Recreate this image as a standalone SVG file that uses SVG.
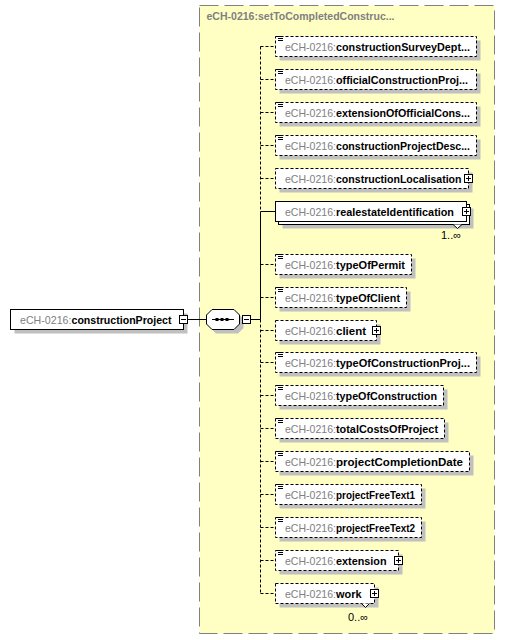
<svg xmlns="http://www.w3.org/2000/svg" xmlns:xlink="http://www.w3.org/1999/xlink" width="505" height="640" viewBox="0 0 505 640">
<style>
text{font-family:"Liberation Sans",Arial,sans-serif;font-size:11px}
.ns{fill:#808080}
.nm{font-weight:bold;fill:#000}
.box{fill:#fff;stroke:#000;stroke-width:1}
.opt{stroke-dasharray:3,2}
.sh{fill:#c0c0c0}
.ln{stroke:#000;stroke-width:1;fill:none}
.dl{stroke:#000;stroke-width:1;fill:none;stroke-dasharray:3,2}
.card{fill:#000;font-size:11px}
</style>
<defs>
<g id="doc"><rect x="0" y="0" width="7" height="6" fill="#fff"/><path d="M0,0.5H7M2,2.5H7M2,4.5H7" stroke="#000" stroke-width="1"/></g>
<g id="plus"><rect x="0.5" y="0.5" width="8" height="8" fill="#fff" stroke="#000"/><path d="M2,4.5H7M4.5,2V7" stroke="#000"/></g>
<g id="minus"><rect x="0.5" y="0.5" width="8" height="8" fill="#fff" stroke="#000"/><path d="M2,4.5H7" stroke="#000"/></g>
</defs>

<g id="complexType">
<rect x="199.5" y="5.5" width="295" height="628" fill="#ffffc4" stroke="#808080" stroke-dasharray="19,6"/>
<text x="206.5" y="20" class="ns" style="font-weight:bold" textLength="188" lengthAdjust="spacingAndGlyphs">eCH-0216:setToCompletedConstruc...</text>
</g>

<g id="connectors">
<path class="ln" d="M187.5,319.5H206.5M250.5,319.5H260.5"/>
<path class="dl" d="M260.5,46.5V211.5"/>
<path class="ln" d="M260.5,211.5V319.5"/>
<path class="dl" d="M260.5,319.5V593.5"/>
<path class="dl" d="M260.5,46.5H275.5M260.5,79.5H275.5M260.5,112.5H275.5M260.5,145.5H275.5M260.5,178.5H275.5M260.5,264.5H275.5M260.5,297.5H275.5M260.5,330.5H275.5M260.5,362.5H275.5M260.5,395.5H275.5M260.5,428.5H275.5M260.5,461.5H275.5M260.5,494.5H275.5M260.5,527.5H275.5M260.5,560.5H275.5M260.5,593.5H275.5"/>
<path class="ln" d="M260.5,211.5H275.5"/>
</g>

<g id="constructionProject">
<rect class="sh" x="14.5" y="313.5" width="173" height="20"/>
<rect class="box" x="10.5" y="309.5" width="173" height="20"/>
<text x="20" y="323.5" class="ns" textLength="51.5" lengthAdjust="spacingAndGlyphs">eCH-0216:</text>
<text x="71.5" y="323.5" class="nm" textLength="100" lengthAdjust="spacingAndGlyphs">constructionProject</text>
<use xlink:href="#minus" x="179" y="315"/>
</g>

<g id="sequence">
<polygon class="sh" points="216,313.5 238,313.5 243.5,319 243.5,328 238,333.5 216,333.5 210.5,328 210.5,319"/>
<polygon class="box" points="212,309.5 234,309.5 239.5,315 239.5,324 234,329.5 212,329.5 206.5,324 206.5,315"/>
<path class="ln" d="M212,319.5H234"/>
<rect x="215.5" y="318" width="3" height="3" fill="#000"/>
<rect x="220.5" y="318" width="3" height="3" fill="#000"/>
<rect x="225.5" y="318" width="3" height="3" fill="#000"/>
<use xlink:href="#minus" x="242" y="315"/>
</g>

<g id="constructionSurveyDept">
<rect class="sh" x="279.5" y="40.5" width="201" height="20"/>
<rect class="box opt" x="275.5" y="36.5" width="201" height="20"/>
<use xlink:href="#doc" x="276" y="36"/>
<text x="285" y="50.5" class="ns" textLength="51" lengthAdjust="spacingAndGlyphs">eCH-0216:</text>
<text x="336" y="50.5" class="nm" textLength="134" lengthAdjust="spacingAndGlyphs">constructionSurveyDept...</text>
</g>

<g id="officialConstructionProj">
<rect class="sh" x="279.5" y="73.5" width="201" height="20"/>
<rect class="box opt" x="275.5" y="69.5" width="201" height="20"/>
<use xlink:href="#doc" x="276" y="69"/>
<text x="285" y="83.5" class="ns" textLength="51" lengthAdjust="spacingAndGlyphs">eCH-0216:</text>
<text x="336" y="83.5" class="nm" textLength="132" lengthAdjust="spacingAndGlyphs">officialConstructionProj...</text>
</g>

<g id="extensionOfOfficialCons">
<rect class="sh" x="279.5" y="106.5" width="201" height="20"/>
<rect class="box opt" x="275.5" y="102.5" width="201" height="20"/>
<use xlink:href="#doc" x="276" y="102"/>
<text x="285" y="116.5" class="ns" textLength="51" lengthAdjust="spacingAndGlyphs">eCH-0216:</text>
<text x="336" y="116.5" class="nm" textLength="134" lengthAdjust="spacingAndGlyphs">extensionOfOfficialCons...</text>
</g>

<g id="constructionProjectDesc">
<rect class="sh" x="279.5" y="139.5" width="201" height="20"/>
<rect class="box opt" x="275.5" y="135.5" width="201" height="20"/>
<use xlink:href="#doc" x="276" y="135"/>
<text x="285" y="149.5" class="ns" textLength="51" lengthAdjust="spacingAndGlyphs">eCH-0216:</text>
<text x="336" y="149.5" class="nm" textLength="134" lengthAdjust="spacingAndGlyphs">constructionProjectDesc...</text>
</g>

<g id="constructionLocalisation">
<rect class="sh" x="279.5" y="172.5" width="193" height="20"/>
<rect class="box opt" x="275.5" y="168.5" width="193" height="20"/>
<text x="285" y="182.5" class="ns" textLength="51" lengthAdjust="spacingAndGlyphs">eCH-0216:</text>
<text x="336" y="182.5" class="nm" textLength="125.5" lengthAdjust="spacingAndGlyphs">constructionLocalisation</text>
<use xlink:href="#plus" x="464" y="174"/>
</g>

<g id="realestateIdentification">
<rect class="sh" x="282.5" y="208.5" width="191" height="20"/>
<rect class="box" x="278.5" y="204.5" width="191" height="20"/>
<rect class="box" x="275.5" y="201.5" width="191" height="20"/>
<text x="285" y="215.5" class="ns" textLength="51" lengthAdjust="spacingAndGlyphs">eCH-0216:</text>
<text x="336" y="215.5" class="nm" textLength="118" lengthAdjust="spacingAndGlyphs">realestateIdentification</text>
<use xlink:href="#plus" x="462" y="207"/>
<polyline points="453,224.5 457.5,228.5 462,224.5" fill="#fff" stroke="#000"/>
<text x="441" y="239" class="card">1..∞</text>
</g>

<g id="typeOfPermit">
<rect class="sh" x="279.5" y="258.5" width="136" height="20"/>
<rect class="box opt" x="275.5" y="254.5" width="136" height="20"/>
<use xlink:href="#doc" x="276" y="254"/>
<text x="285" y="268.5" class="ns" textLength="51" lengthAdjust="spacingAndGlyphs">eCH-0216:</text>
<text x="336" y="268.5" class="nm" textLength="69" lengthAdjust="spacingAndGlyphs">typeOfPermit</text>
</g>

<g id="typeOfClient">
<rect class="sh" x="279.5" y="291.5" width="131" height="20"/>
<rect class="box opt" x="275.5" y="287.5" width="131" height="20"/>
<use xlink:href="#doc" x="276" y="287"/>
<text x="285" y="301.5" class="ns" textLength="51" lengthAdjust="spacingAndGlyphs">eCH-0216:</text>
<text x="336" y="301.5" class="nm" textLength="64" lengthAdjust="spacingAndGlyphs">typeOfClient</text>
</g>

<g id="client">
<rect class="sh" x="279.5" y="324.5" width="101" height="20"/>
<rect class="box opt" x="275.5" y="320.5" width="101" height="20"/>
<text x="285" y="334.5" class="ns" textLength="51" lengthAdjust="spacingAndGlyphs">eCH-0216:</text>
<text x="336" y="334.5" class="nm" textLength="30" lengthAdjust="spacingAndGlyphs">client</text>
<use xlink:href="#plus" x="372" y="326"/>
</g>

<g id="typeOfConstructionProj">
<rect class="sh" x="279.5" y="356.5" width="201" height="20"/>
<rect class="box opt" x="275.5" y="352.5" width="201" height="20"/>
<use xlink:href="#doc" x="276" y="352"/>
<text x="285" y="366.5" class="ns" textLength="51" lengthAdjust="spacingAndGlyphs">eCH-0216:</text>
<text x="336" y="366.5" class="nm" textLength="134" lengthAdjust="spacingAndGlyphs">typeOfConstructionProj...</text>
</g>

<g id="typeOfConstruction">
<rect class="sh" x="279.5" y="389.5" width="168" height="20"/>
<rect class="box opt" x="275.5" y="385.5" width="168" height="20"/>
<use xlink:href="#doc" x="276" y="385"/>
<text x="285" y="399.5" class="ns" textLength="51" lengthAdjust="spacingAndGlyphs">eCH-0216:</text>
<text x="336" y="399.5" class="nm" textLength="101" lengthAdjust="spacingAndGlyphs">typeOfConstruction</text>
</g>

<g id="totalCostsOfProject">
<rect class="sh" x="279.5" y="422.5" width="169" height="20"/>
<rect class="box opt" x="275.5" y="418.5" width="169" height="20"/>
<use xlink:href="#doc" x="276" y="418"/>
<text x="285" y="432.5" class="ns" textLength="51" lengthAdjust="spacingAndGlyphs">eCH-0216:</text>
<text x="336" y="432.5" class="nm" textLength="102" lengthAdjust="spacingAndGlyphs">totalCostsOfProject</text>
</g>

<g id="projectCompletionDate">
<rect class="sh" x="279.5" y="455.5" width="194" height="20"/>
<rect class="box opt" x="275.5" y="451.5" width="194" height="20"/>
<use xlink:href="#doc" x="276" y="451"/>
<text x="285" y="465.5" class="ns" textLength="51" lengthAdjust="spacingAndGlyphs">eCH-0216:</text>
<text x="336" y="465.5" class="nm" textLength="127" lengthAdjust="spacingAndGlyphs">projectCompletionDate</text>
</g>

<g id="projectFreeText1">
<rect class="sh" x="279.5" y="488.5" width="146" height="20"/>
<rect class="box opt" x="275.5" y="484.5" width="146" height="20"/>
<use xlink:href="#doc" x="276" y="484"/>
<text x="285" y="498.5" class="ns" textLength="51" lengthAdjust="spacingAndGlyphs">eCH-0216:</text>
<text x="336" y="498.5" class="nm" textLength="79" lengthAdjust="spacingAndGlyphs">projectFreeText1</text>
</g>

<g id="projectFreeText2">
<rect class="sh" x="279.5" y="521.5" width="146" height="20"/>
<rect class="box opt" x="275.5" y="517.5" width="146" height="20"/>
<use xlink:href="#doc" x="276" y="517"/>
<text x="285" y="531.5" class="ns" textLength="51" lengthAdjust="spacingAndGlyphs">eCH-0216:</text>
<text x="336" y="531.5" class="nm" textLength="79" lengthAdjust="spacingAndGlyphs">projectFreeText2</text>
</g>

<g id="extension">
<rect class="sh" x="279.5" y="554.5" width="123" height="20"/>
<rect class="box opt" x="275.5" y="550.5" width="123" height="20"/>
<use xlink:href="#doc" x="276" y="550"/>
<text x="285" y="564.5" class="ns" textLength="51" lengthAdjust="spacingAndGlyphs">eCH-0216:</text>
<text x="336" y="564.5" class="nm" textLength="50.5" lengthAdjust="spacingAndGlyphs">extension</text>
<use xlink:href="#plus" x="394" y="556"/>
</g>

<g id="work">
<rect class="sh" x="279.5" y="587.5" width="99" height="20"/>
<rect class="box opt" x="275.5" y="583.5" width="99" height="20"/>
<text x="285" y="597.5" class="ns" textLength="51" lengthAdjust="spacingAndGlyphs">eCH-0216:</text>
<text x="336" y="597.5" class="nm" textLength="25.5" lengthAdjust="spacingAndGlyphs">work</text>
<use xlink:href="#plus" x="370" y="589"/>
<polyline points="361.5,603.5 365.5,607.5 369.5,603.5" fill="#fff" stroke="#000"/>
<text x="348" y="621" class="card">0..∞</text>
</g>
</svg>
